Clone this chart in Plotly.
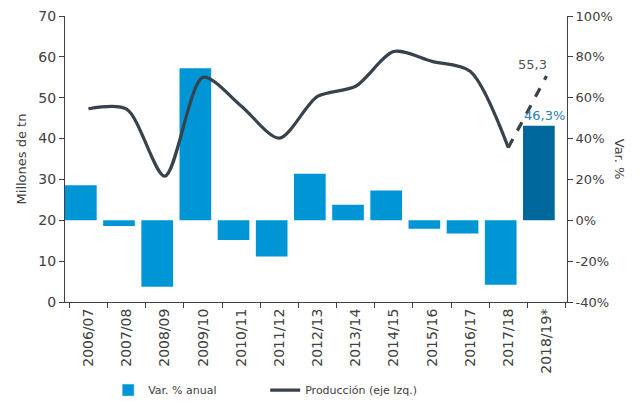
import plotly.graph_objects as go

campanas = ["2006/07", "2007/08", "2008/09", "2009/10", "2010/11", "2011/12", "2012/13",
            "2013/14", "2014/15", "2015/16", "2016/17", "2017/18", "2018/19*"]
var_anual = [17.1, -2.8, -32.5, 74.4, -9.6, -17.7, 22.8, 7.6, 14.6, -4.1, -6.5, -31.5, 46.3]
produccion = [47.3, 47.2, 30.8, 55.0, 48.0, 40.1, 50.3, 52.8, 61.3, 58.9, 56.5, 37.8, 55.3]

mt_ticks = [0, 10, 20, 30, 40, 50, 60, 70]
pct_ticks = [-40, -20, 0, 20, 40, 60, 80, 100]
pct_text = [f"{v}%" for v in pct_ticks]

azul = "#0096D6"
azul_osc = "#00679C"
gris = "#38424C"
txt = "#404040"

bar_colors = [azul] * (len(campanas) - 1) + [azul_osc]

fig = go.Figure()

# barras de variación (eje derecho)
fig.add_trace(go.Bar(x=campanas, y=var_anual, name="Var. % anual",
                     marker=dict(color=bar_colors, line=dict(width=0)),
                     width=0.83, yaxis="y", showlegend=False))
# entrada de leyenda con el color claro
fig.add_trace(go.Bar(x=[campanas[0]], y=[None], name="Var. % anual",
                     marker_color=azul, yaxis="y"))

# producción (eje izquierdo), tramo proyectado en línea discontinua
fig.add_trace(go.Scatter(x=campanas[:-1], y=produccion[:-1], name="Producción (eje Izq.)",
                         mode="lines", line=dict(color=gris, width=3.2, shape="spline", smoothing=0.8),
                         yaxis="y2"))
fig.add_trace(go.Scatter(x=campanas[-2:], y=produccion[-2:], mode="lines",
                         line=dict(color=gris, width=3.2, dash="dash"),
                         yaxis="y2", showlegend=False))

fig.add_annotation(x=campanas[-1], y=produccion[-1], yref="y2", text="55,3",
                   showarrow=False, xanchor="right", yanchor="bottom", xshift=2, yshift=2,
                   font=dict(size=13, color="#4A5560"))
fig.add_annotation(x=campanas[-1], y=var_anual[-1], yref="y", text="46,3%",
                   showarrow=False, xanchor="center", yanchor="bottom", yshift=1, xshift=-2,
                   font=dict(size=13, color="#2C7DB0"))
fig.add_annotation(x=1.125, y=0.5, xref="paper", yref="paper", text="Var. %",
                   textangle=90, showarrow=False, font=dict(size=13, color=txt))

fig.update_layout(
    width=644, height=403,
    margin=dict(l=57, r=85, t=8, b=109, autoexpand=False),
    plot_bgcolor="white", paper_bgcolor="white",
    font=dict(family="DejaVu Sans", size=13, color=txt),
    xaxis=dict(type="category", tickangle=-90, ticks="outside", tickson="boundaries",
               ticklen=5, tickcolor=txt, showline=True, linecolor=txt, linewidth=1,
               showgrid=False, tickfont=dict(size=14), automargin=False),
    yaxis=dict(side="right", range=[-40, 100], tickvals=pct_ticks, ticktext=pct_text,
               ticks="outside", ticklen=5, tickcolor=txt, showline=True, linecolor=txt,
               showgrid=False, zeroline=False, tickfont=dict(size=13), automargin=False,
               ticklabeloverflow="allow"),
    yaxis2=dict(side="left", overlaying="y", range=[0, 70], tickvals=mt_ticks,
                ticks="outside", ticklen=5, tickcolor=txt, showline=True, linecolor=txt,
                showgrid=False, zeroline=False, tickfont=dict(size=14), automargin=False,
                ticklabeloverflow="allow",
                title=dict(text="Millones de tn", font=dict(size=13), standoff=8)),
    legend=dict(orientation="h", x=0.086, xanchor="left", y=-0.308, yanchor="middle",
                font=dict(size=11), traceorder="normal", itemwidth=30, entrywidth=112),
)

fig.write_html("out.html")
